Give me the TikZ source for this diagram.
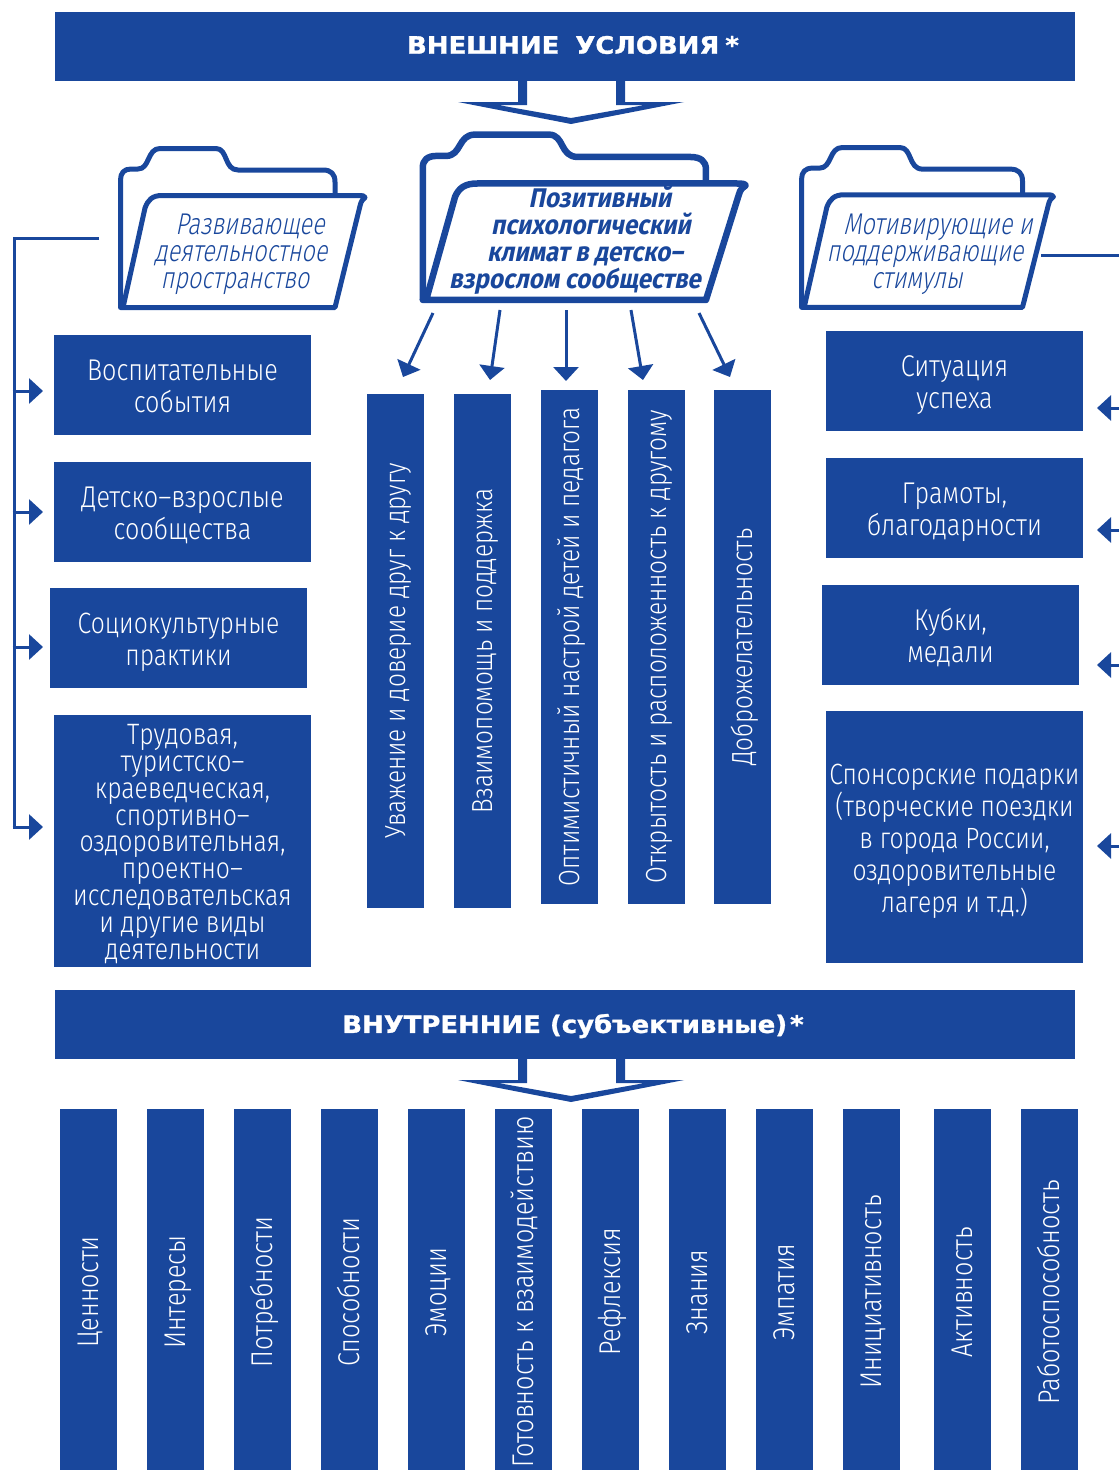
\documentclass[tikz,border=0pt]{standalone}
\usepackage{fontspec}
\usetikzlibrary{arrows.meta}
\setmainfont{Fira Sans Light}[FakeStretch=0.84]
\newfontfamily\foldfont{Fira Sans Light}[FakeStretch=0.78,FakeSlant=0.2]
\newfontfamily\foldbold{Fira Sans Bold}[FakeStretch=0.90,FakeSlant=0.2]
\newfontfamily\headfont{DejaVu Sans Bold}[FakeStretch=1.08,FakeBold=1.2]
\definecolor{mainblue}{HTML}{19479C}
\tikzset{
  x=1pt,y=-1pt,
  bluebox/.style={fill=mainblue,inner sep=0pt,minimum width=257pt,minimum height=100pt},
  boxtext/.style={text=white,inner sep=0pt,align=center,font=\fontsize{30}{32}\selectfont},
  colbox/.style={fill=mainblue,text=white,inner sep=0pt,rotate=90,font=\fontsize{30}{32}\selectfont,minimum height=57pt,text height=26pt,text depth=5.4pt},
  midcol/.style={colbox,minimum width=514pt,font=\fontsize{29}{32}\selectfont},
  lowcol/.style={colbox,minimum width=361pt,execute at end node={\hspace{5pt}}},
  headbar/.style={fill=mainblue,inner sep=0pt,minimum width=1020pt,minimum height=69pt},
  headtext/.style={text=white,inner sep=0pt,font=\headfont\fontsize{24}{24}\selectfont},
  foldertext/.style={text=mainblue,inner sep=0pt,align=center,font=\foldfont\fontsize{30}{27}\selectfont},
  folderboldtext/.style={text=mainblue,inner sep=0pt,align=center,font=\foldbold\fontsize{27}{27}\selectfont},
  conn/.style={draw=mainblue,line width=3pt},
  arrowconn/.style={conn,-{Triangle[length=14pt,width=25pt]}},
  hollow/.style={fill=mainblue,draw=none}
}
% #1 x, #2 y, #3 xscale, #4 yscale, #5 line width
\newcommand{\folderdraw}[5]{%
 \begin{scope}[shift={(#1,#2)},xscale=#3,yscale=#4,draw=mainblue,line width=#5,line join=round]
  \draw (2.5,161.5) -- (2.5,34) .. controls (2.5,27) and (6,23) .. (13,23)
     -- (20,23) .. controls (32,23) and (29,2.5) .. (42,2.5)
     -- (98,2.5) .. controls (110,2.5) and (106,24) .. (120,24)
     -- (205,24) .. controls (213,24) and (217,28) .. (217,36) -- (217,50);
  \draw[fill=white] (2.5,161.5) -- (5,161.5) -- (27,62) .. controls (30,54) and (34,49.5) .. (44,49.5)
     -- (240,49.5) .. controls (245,49.5) and (247,50) .. (247,51.5) .. controls (245,53) and (243,55) .. (242,60)
     -- (217,161.5) -- cycle;
 \end{scope}}
\begin{document}
\begin{tikzpicture}
\useasboundingbox (0,0) rectangle (1119,1470);
% bars
\node[headbar] (ext) at (565,46.5) {};
\node[headtext] (extt) at (573,45) {ВНЕШНИЕ\hspace{16pt}УСЛОВИЯ\hspace{6pt}*};
\node[headbar] (int) at (565,1024.5) {};
\node[headtext] (intt) at (573,1026) {ВНУТРЕННИЕ (субъективные)\hspace{3pt}*};
% hollow arrows
\foreach \dy in {0,978}{
 \fill[hollow,yshift=-\dy pt] (518,81) -- (527,81) -- (527,105) -- (498,105) -- (571,118) -- (645,105) -- (616,105) -- (616,81) -- (625,81) -- (625,102) -- (684,102) -- (571,124) -- (458,102) -- (518,102) -- cycle;
}
% folders
\folderdraw{118}{146}{1}{1}{5pt}
\folderdraw{419.5}{132}{1.32}{1.04}{6.5pt}
\folderdraw{799}{145}{1.03}{1.005}{5pt}
\node[foldertext] (f1) at (241,254) {\hspace*{18pt}Развивающее\\деятельностное\\пространство\hspace*{12pt}};
\node[foldertext] (f3) at (925,254) {\hspace*{26pt}Мотивирующие и\\поддерживающие\hspace*{14pt}\\стимулы\hspace*{16pt}};
\node[folderboldtext] (f2) at (585,240) {\hspace*{30pt}Позитивный\\\hspace*{12pt}психологический\\климат в детско–\hspace*{18pt}\\взрослом сообществе\hspace*{20pt}};
% left boxes
\node[bluebox] (l1) at (182.5,385) {};
\node[boxtext] (l1t) at (182.5,386) {Воспитательные\\события};
\node[bluebox] (l2) at (182.5,512) {};
\node[boxtext] (l2t) at (182.5,515.5) {Детско–взрослые\\сообщества};
\node[bluebox] (l3) at (178.5,638) {};
\node[boxtext,font=\fontsize{29.4}{32}\selectfont] (l3t) at (178.5,642) {Социокультурные\\практики};
\node[bluebox,minimum height=252pt] (l4) at (182.5,841) {};
\node[boxtext,font=\fontsize{29.5}{26.9}\selectfont] (l4t) at (182.5,844) {Трудовая,\\туристско–\\краеведческая,\\спортивно–\\оздоровительная,\\проектно–\\исследовательская\\и другие виды\\деятельности};
% right boxes
\node[bluebox] (r1) at (954.5,381) {};
\node[boxtext] (r1t) at (954.5,385) {Ситуация\\успеха};
\node[bluebox] (r2) at (954.5,508) {};
\node[boxtext] (r2t) at (954.5,512) {Грамоты,\\благодарности};
\node[bluebox] (r3) at (950.5,635) {};
\node[boxtext] (r3t) at (950.5,637.5) {Кубки,\\медали};
\node[bluebox,minimum height=252pt] (r4) at (954.5,837) {};
\node[boxtext,font=\fontsize{29.3}{32}\selectfont] (r4t) at (954.5,841.5) {Спонсорские подарки\\(творческие поездки\\в города России,\\оздоровительные\\лагеря и т.д.)};
% centre columns
\node[midcol] (c1) at (395.5,651) {Уважение и доверие друг к другу};
\node[midcol] (c2) at (482.5,651) {Взаимопомощь и поддержка};
\node[midcol] (c3) at (569.5,647) {Оптимистичный настрой детей и педагога};
\node[midcol] (c4) at (656.5,647) {Открытость и расположенность к другому};
\node[midcol] (c5) at (742.5,647) {Доброжелательность};
% bottom columns
\node[lowcol] (b1) at (88.5,1289.5) {Ценности};
\node[lowcol] (b2) at (175.5,1289.5) {Интересы};
\node[lowcol] (b3) at (262.5,1289.5) {Потребности};
\node[lowcol] (b4) at (349.5,1289.5) {Способности};
\node[lowcol] (b5) at (436.5,1289.5) {Эмоции};
\node[lowcol] (b6) at (523.5,1289.5) {Готовность к взаимодействию};
\node[lowcol] (b7) at (610.5,1289.5) {Рефлексия};
\node[lowcol] (b8) at (697.5,1289.5) {Знания};
\node[lowcol] (b9) at (784.5,1289.5) {Эмпатия};
\node[lowcol] (b10) at (871.5,1289.5) {Инициативность};
\node[lowcol] (b11) at (962.5,1289.5) {Активность};
\node[lowcol] (b12) at (1049.5,1289.5) {Работоспособность};
% connector points
\coordinate (lstart) at (99,238);
\coordinate (lcorner) at (14,238);
\coordinate (lbot) at (14,827);
\foreach \n/\y in {a/391,b/512,c/647,d/827}{
 \coordinate (lj\n) at (14,\y);
 \coordinate (lt\n) at (43,\y);
}
\draw[conn] (lstart) -- (lcorner) -- (lbot);
\foreach \n in {a,b,c,d}{ \draw[arrowconn] ([xshift=-1.5pt]lj\n) -- (lt\n); }
\coordinate (rstart) at (1041,255);
\coordinate (rend) at (1119,255);
\draw[conn] (rstart) -- (rend);
\foreach \n/\y in {a/408,b/530,c/665,d/846}{
 \coordinate (rj\n) at (1119,\y);
 \coordinate (rt\n) at (1097,\y);
 \draw[arrowconn] (rj\n) -- (rt\n);
}
% centre arrows
\foreach \n/\xa/\ya/\xb/\yb in {1/433/313/403/377,2/500/310/490/380,3/566/310/566/381,4/631/310/643/380,5/699/313/730/377}{
 \coordinate (s\n) at (\xa,\ya);
 \coordinate (t\n) at (\xb,\yb);
 \draw[arrowconn] (s\n) -- (t\n);
}
\end{tikzpicture}
\end{document}
